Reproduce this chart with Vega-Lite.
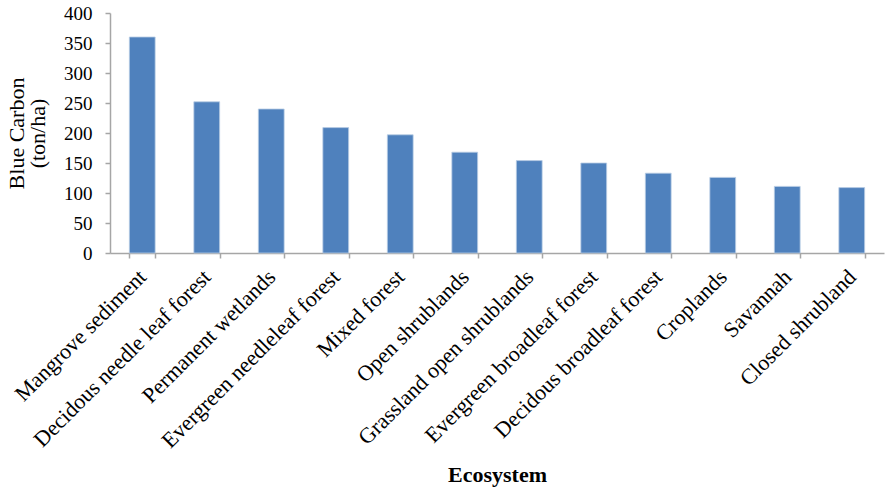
{
  "$schema": "https://vega.github.io/schema/vega-lite/v6.json",
  "width": 774,
  "height": 240,
  "autosize": {"type": "none"},
  "padding": {"left": 110, "top": 13, "right": 1, "bottom": 236},
  "background": "white",
  "config": {
    "view": {"stroke": null},
    "font": "Liberation Serif",
    "axis": {
      "labelFont": "Liberation Serif",
      "titleFont": "Liberation Serif",
      "labelColor": "#000000",
      "titleColor": "#000000",
      "domainColor": "#A6A6A6",
      "tickColor": "#A6A6A6",
      "domainWidth": 1.5,
      "tickWidth": 1.5,
      "tickSize": 5,
      "grid": false
    }
  },
  "data": {
    "values": [
      {"ecosystem": "Mangrove sediment", "carbon": 360},
      {"ecosystem": "Decidous needle leaf forest", "carbon": 252},
      {"ecosystem": "Permanent wetlands", "carbon": 240},
      {"ecosystem": "Evergreen needleleaf forest", "carbon": 209},
      {"ecosystem": "Mixed forest", "carbon": 197},
      {"ecosystem": "Open shrublands", "carbon": 168},
      {"ecosystem": "Grassland open shrublands", "carbon": 154},
      {"ecosystem": "Evergreen broadleaf forest", "carbon": 150},
      {"ecosystem": "Decidous broadleaf forest", "carbon": 133},
      {"ecosystem": "Croplands", "carbon": 126},
      {"ecosystem": "Savannah", "carbon": 111},
      {"ecosystem": "Closed shrubland", "carbon": 109}
    ]
  },
  "mark": {"type": "bar", "color": "#4F81BD", "stroke": "#B9CDE5", "strokeWidth": 0.8},
  "encoding": {
    "x": {
      "field": "ecosystem",
      "type": "nominal",
      "sort": null,
      "scale": {"paddingInner": 0.6, "paddingOuter": 0.3},
      "axis": {
        "title": "Ecosystem",
        "titleFontWeight": "bold",
        "titleFontSize": 22,
        "titleBaseline": "alphabetic",
        "titleY": 228,
        "labelAngle": -45,
        "labelAlign": "right",
        "labelBaseline": "middle",
        "labelFontSize": 22,
        "labelPadding": 15,
        "labelLimit": 400,
        "tickBand": "extent"
      }
    },
    "y": {
      "field": "carbon",
      "type": "quantitative",
      "scale": {"domain": [0, 400], "nice": false},
      "axis": {
        "title": ["Blue Carbon", "(ton/ha)"],
        "titleFontWeight": "normal",
        "titleFontSize": 22,
        "titleLineHeight": 21,
        "titleAngle": -90,
        "titleAlign": "center",
        "titleBaseline": "alphabetic",
        "titleX": -87,
        "titleY": 120,
        "values": [0, 50, 100, 150, 200, 250, 300, 350, 400],
        "labelFontSize": 19,
        "labelPadding": 13
      }
    }
  }
}
